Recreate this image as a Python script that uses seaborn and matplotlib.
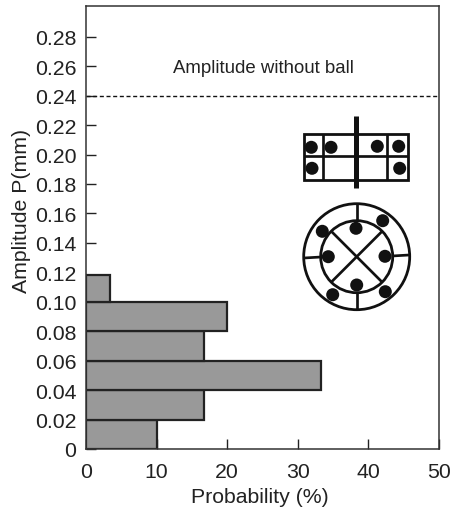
import matplotlib
matplotlib.use("Agg")
import matplotlib.pyplot as plt
from matplotlib.patches import Circle, Rectangle
from matplotlib.lines import Line2D
from matplotlib.transforms import Affine2D
import seaborn as sns

sns.set_style("ticks")
plt.rcParams['font.family'] = ['Liberation Sans', 'DejaVu Sans']

bin_edges = [0, 0.02, 0.04, 0.06, 0.08, 0.10, 0.118]
bin_mids = [0.01, 0.03, 0.05, 0.07, 0.09, 0.109]
probability = [10.0, 16.7, 33.3, 16.7, 20.0, 3.4]
x_ticks = [0, 10, 20, 30, 40, 50]
y_ticks = [0, 0.02, 0.04, 0.06, 0.08, 0.10, 0.12, 0.14, 0.16, 0.18, 0.20, 0.22, 0.24, 0.26, 0.28]
y_tick_labels = ['0'] + [f'{v:.2f}' for v in y_ticks[1:]]
no_ball_amplitude = 0.24

fig = plt.figure(figsize=(4.56, 5.10), dpi=100, facecolor='white')
ax = fig.add_axes([86 / 456, 1 - 450 / 510, (439 - 86) / 456, (450 - 7) / 510])

sns.histplot(y=bin_mids, weights=probability, bins=bin_edges, color='#999999',
             edgecolor='#222222', linewidth=1.6, alpha=1, ax=ax)
ax.axhline(no_ball_amplitude, color='#111111', lw=1.0, ls=(0, (2.9, 1.9)))
ax.set_xlim(0, 50)
ax.set_ylim(0, 0.3009)
ax.set_xticks(x_ticks)
ax.set_yticks(y_ticks)
ax.set_yticklabels(y_tick_labels)
ax.tick_params(axis='both', direction='in', length=7, width=1.0, color='#222222',
               labelsize=15.3, labelcolor='#222222')
ax.tick_params(axis='y', pad=7)
ax.tick_params(axis='x', pad=9.5)
ax.yaxis.get_major_ticks()[6].tick1line.set_visible(False)
ax.set_xlabel('Probability (%)', fontsize=15.3, color='#222222')
ax.set_ylabel('Amplitude P(mm)', fontsize=15.3, color='#222222')
ax.yaxis.set_label_coords(-0.156, 0.54)
ax.xaxis.set_label_coords(0.493, -0.085)
for s in ax.spines.values():
    s.set_linewidth(1.1)
    s.set_color('#333333')
    s.set_visible(True)
ax.text(25.2, 0.259, 'Amplitude without ball', ha='center', va='center',
        fontsize=13.4, color='#222222')

# schematic of the bearing, placed in figure pixels (y downward)
px = Affine2D().scale(1, -1).translate(0, 510)
ink = '#111111'


def seg(x0, y0, x1, y1, w=2.7):
    ax.add_line(Line2D([x0, x1], [y0, y1], transform=px, color=ink, lw=w * 0.72,
                       solid_capstyle='butt', clip_on=False))


ax.add_patch(Rectangle((304, 134.5), 104, 46.5, transform=px, fill=False, ec=ink, lw=2.0))
seg(304, 157.3, 408, 157.3)
seg(323.3, 134.5, 323.3, 181)
seg(386.7, 134.5, 386.7, 181)
seg(356.3, 117, 356.3, 188.5, 5)
for c in [(311.3, 148.3), (331, 148.3), (377.3, 147.3), (398.7, 147.3), (312, 169.3), (399.7, 169.3)]:
    ax.add_patch(Circle(c, 6.5, transform=px, color=ink, lw=0))

cx, cy = 356.7, 257.7
ax.add_patch(Circle((cx, cy), 53, transform=px, fill=False, ec=ink, lw=2.0))
ax.add_patch(Circle((cx, cy), 36, transform=px, fill=False, ec=ink, lw=2.0))
seg(cx, 205, cx, 222)
seg(cx, 294, cx, 311)
seg(304, 259, 321, 258)
seg(392, 257, 409, 256)
seg(cx - 25, cy - 25, cx + 25, cy + 25)
seg(cx - 25, cy + 25, cx + 25, cy - 25)
for c in [(356, 229.3), (382.7, 221.7), (322.3, 232.3), (328.3, 257.7), (385, 257.3),
          (356.7, 286), (332.7, 295.7), (385.3, 292.7)]:
    ax.add_patch(Circle(c, 6.5, transform=px, color=ink, lw=0))

fig.savefig('out.png', dpi=100)
